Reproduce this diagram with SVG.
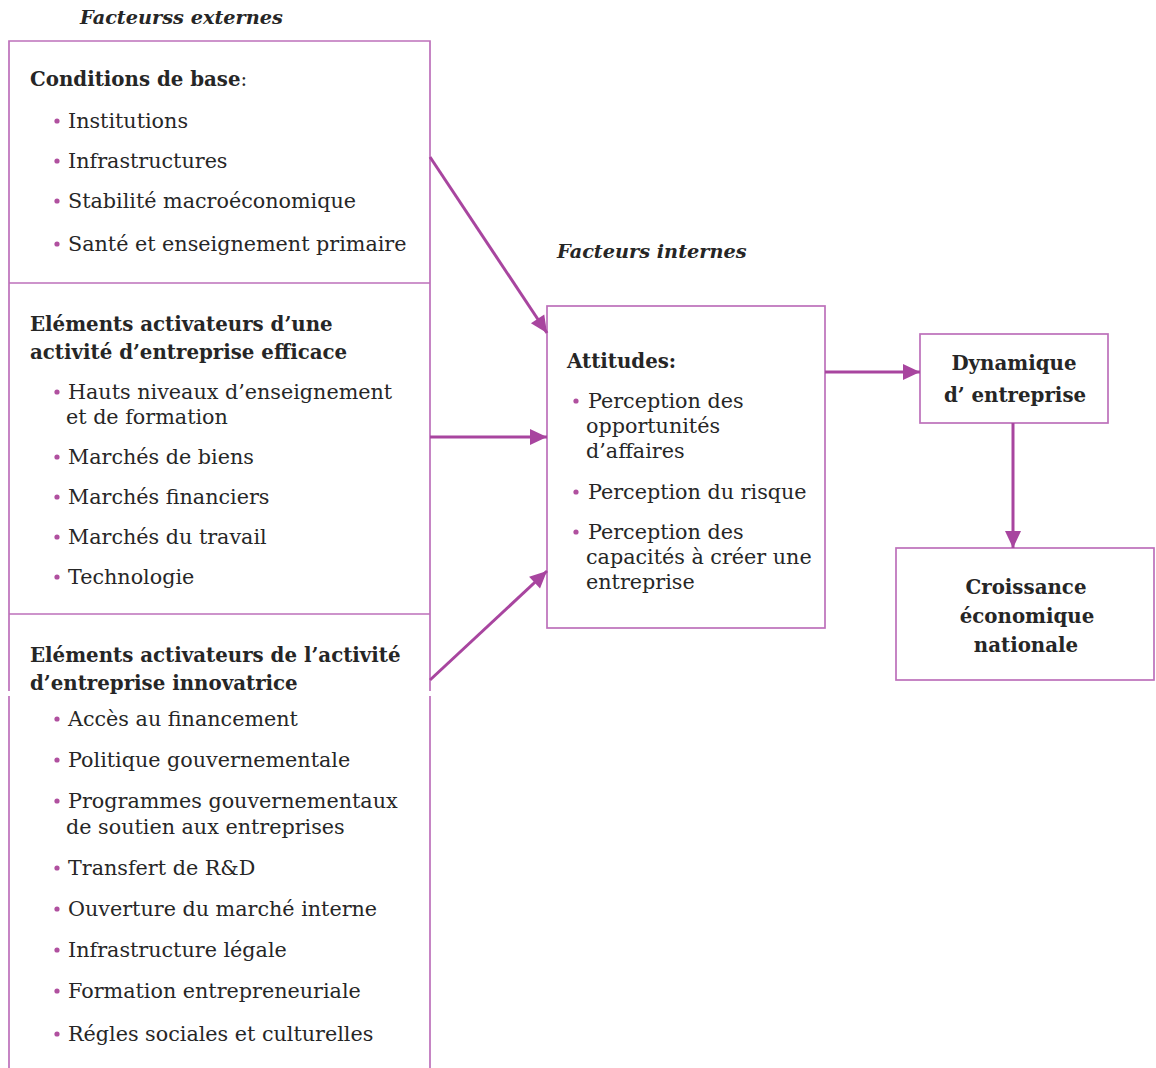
<svg xmlns="http://www.w3.org/2000/svg" width="1156" height="1068" viewBox="0 0 1156 1068">
<defs>
<style>
.t{font-family:"DejaVu Serif","Liberation Serif",serif;font-size:20.7px;fill:#262626}
.b{font-family:"DejaVu Serif","Liberation Serif",serif;font-size:19.8px;font-weight:bold;fill:#262626}
.bi{font-family:"DejaVu Serif","Liberation Serif",serif;font-size:19.3px;font-weight:bold;font-style:italic;fill:#262626}
.box{fill:none;stroke:#bd70ba;stroke-width:1.7}
.dot{fill:#b0509f}
.c{fill:none;stroke:#a8459f;stroke-width:3}
.m{text-anchor:middle}
</style>
<marker id="ah" markerUnits="userSpaceOnUse" markerWidth="20" markerHeight="20" viewBox="0 0 20 20" refX="18" refY="10" orient="auto">
<path d="M1,2 L18,10 L1,18 Z" fill="#a8459f"/>
</marker>
</defs>
<rect width="1156" height="1068" fill="#ffffff"/>

<g id="label-externes">
<text class="bi" x="80" y="24">Facteurss externes</text>
</g>
<g id="label-internes">
<text class="bi" x="557" y="258">Facteurs internes</text>
</g>

<g id="externes">
<path class="box" d="M9,691 V41 H430 V691 M9,696 V1068 M430,696 V1068 M9,283 H430 M9,614 H430"/>
</g>

<g id="conditions">
<text class="b" x="30" y="86">Conditions de base<tspan font-weight="normal">:</tspan></text>
<circle class="dot" cx="57" cy="121" r="2.6"/><text class="t" x="68" y="128">Institutions</text>
<circle class="dot" cx="57" cy="161" r="2.6"/><text class="t" x="68" y="168">Infrastructures</text>
<circle class="dot" cx="57" cy="201" r="2.6"/><text class="t" x="68" y="208">Stabilité macroéconomique</text>
<circle class="dot" cx="57" cy="244" r="2.6"/><text class="t" x="68" y="251">Santé et enseignement primaire</text>
</g>

<g id="efficace">
<text class="b" x="30" y="331">Eléments activateurs d’une</text>
<text class="b" x="30" y="359">activité d’entreprise efficace</text>
<circle class="dot" cx="57" cy="392" r="2.6"/><text class="t" x="68" y="399">Hauts niveaux d’enseignement</text>
<text class="t" x="66" y="424">et de formation</text>
<circle class="dot" cx="57" cy="457" r="2.6"/><text class="t" x="68" y="464">Marchés de biens</text>
<circle class="dot" cx="57" cy="497" r="2.6"/><text class="t" x="68" y="504">Marchés financiers</text>
<circle class="dot" cx="57" cy="537" r="2.6"/><text class="t" x="68" y="544">Marchés du travail</text>
<circle class="dot" cx="57" cy="577" r="2.6"/><text class="t" x="68" y="584">Technologie</text>
</g>

<g id="innovatrice">
<text class="b" x="30" y="662">Eléments activateurs de l’activité</text>
<text class="b" x="30" y="690">d’entreprise innovatrice</text>
<circle class="dot" cx="57" cy="719" r="2.6"/><text class="t" x="68" y="726">Accès au financement</text>
<circle class="dot" cx="57" cy="760" r="2.6"/><text class="t" x="68" y="767">Politique gouvernementale</text>
<circle class="dot" cx="57" cy="801" r="2.6"/><text class="t" x="68" y="808">Programmes gouvernementaux</text>
<text class="t" x="66" y="834">de soutien aux entreprises</text>
<circle class="dot" cx="57" cy="868" r="2.6"/><text class="t" x="68" y="875">Transfert de R&amp;D</text>
<circle class="dot" cx="57" cy="909" r="2.6"/><text class="t" x="68" y="916">Ouverture du marché interne</text>
<circle class="dot" cx="57" cy="950" r="2.6"/><text class="t" x="68" y="957">Infrastructure légale</text>
<circle class="dot" cx="57" cy="991" r="2.6"/><text class="t" x="68" y="998">Formation entrepreneuriale</text>
<circle class="dot" cx="57" cy="1034" r="2.6"/><text class="t" x="68" y="1041">Régles sociales et culturelles</text>
</g>

<g id="attitudes">
<rect class="box" x="547" y="306" width="278" height="322"/>
<text class="b" x="567" y="368">Attitudes:</text>
<circle class="dot" cx="576" cy="401" r="2.6"/><text class="t" x="588" y="408">Perception des</text>
<text class="t" x="586" y="433">opportunités</text>
<text class="t" x="586" y="458">d’affaires</text>
<circle class="dot" cx="576" cy="492" r="2.6"/><text class="t" x="588" y="499">Perception du risque</text>
<circle class="dot" cx="576" cy="532" r="2.6"/><text class="t" x="588" y="539">Perception des</text>
<text class="t" x="586" y="564">capacités à créer une</text>
<text class="t" x="586" y="589">entreprise</text>
</g>

<g id="dynamique">
<rect class="box" x="920" y="334" width="188" height="89"/>
<text class="b m" x="1014" y="370">Dynamique</text>
<text class="b m" x="1015" y="402">d’ entreprise</text>
</g>

<g id="croissance">
<rect class="box" x="896" y="548" width="258" height="132"/>
<text class="b m" x="1026" y="594">Croissance</text>
<text class="b m" x="1027" y="623">économique</text>
<text class="b m" x="1026" y="652">nationale</text>
</g>

<g id="connectors">
<line class="c" x1="430" y1="157" x2="547" y2="333" marker-end="url(#ah)"/>
<line class="c" x1="430" y1="437" x2="547" y2="437" marker-end="url(#ah)"/>
<line class="c" x1="430" y1="680" x2="547" y2="571" marker-end="url(#ah)"/>
<line class="c" x1="825" y1="372" x2="920" y2="372" marker-end="url(#ah)"/>
<line class="c" x1="1013" y1="423" x2="1013" y2="548" marker-end="url(#ah)"/>
</g>
</svg>
